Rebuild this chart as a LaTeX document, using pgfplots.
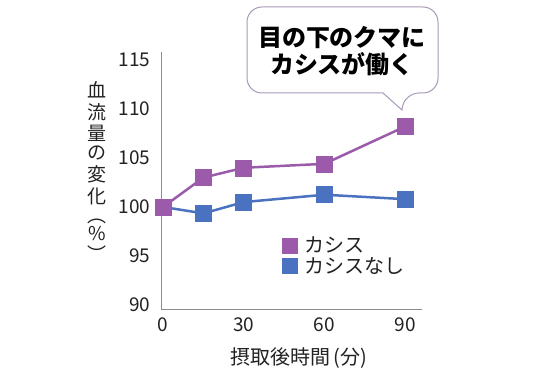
\documentclass[border=0pt]{standalone}
\usepackage{pgfplots}
\pgfplotsset{compat=1.18}
\usepackage{fontspec}
\setmainfont{Noto Sans CJK JP}
\definecolor{cassis}{HTML}{9B5BAA}
\definecolor{nocassis}{HTML}{4A72C0}
\definecolor{axisgray}{HTML}{8C8C8C}
\definecolor{bubble}{HTML}{A89AB8}
\definecolor{txt}{HTML}{222222}

\pgfplotstableread{
x y
0 100
15 103.0
30 104.0
60 104.4
90 108.2
}\cassisdata
\pgfplotstableread{
x y
0 100
15 99.35
30 100.5
60 101.25
90 100.8
}\nocassisdata

\begin{document}
\begin{tikzpicture}
\useasboundingbox (0pt,0pt) rectangle (542pt,386pt);
\fill[white] (0pt,0pt) rectangle (542pt,386pt);
\begin{axis}[
  at={(162pt,76pt)}, anchor=south west,
  scale only axis, width=260pt, height=258pt,
  xmin=-0.4, xmax=96.3, ymin=89.5, ymax=115.8,
  axis x line=bottom, axis y line=left,
  axis line style={-, axisgray, line width=1pt},
  xtick={0,30,60,90}, ytick={90,95,100,105,110,115},
  major tick length=0pt,
  tick label style={font=\fontsize{19}{21}\selectfont, text=txt},
  /pgf/number format/assume math mode=true,
  xticklabel style={yshift=-4pt},
  yticklabel style={xshift=-8pt},
  xlabel={摂取後時間\,(分)},
  xlabel style={at={(axis description cs:0.525,-0.186)}, anchor=center, font=\fontsize{20}{22}\selectfont, text=txt},
  ylabel={\begin{tabular}{@{}c@{}}血\\流\\量\\の\\変\\化\\︵\\[-1pt]\%\\[-1pt]︶\end{tabular}},
  ylabel style={at={(axis description cs:-0.25,0.525)}, anchor=center, rotate=-90, font=\fontsize{19}{19}\selectfont, text=txt},
  legend style={at={(axis description cs:0.452,0.30)}, anchor=north west, draw=none, fill=none,
    font=\fontsize{20}{22}\selectfont, text=txt, row sep=-1pt, cells={anchor=west}},
  legend image code/.code={\path[draw=none,fill=none] (0.3cm-7.5pt,0pt) rectangle (0.3cm+12pt,0.1pt);\draw[#1, mark size=7.5pt, line width=0pt] plot coordinates {(0.3cm,0cm)};},
  reverse legend,
  clip=false,
]
\addplot[nocassis, line width=2.5pt, mark=square*, mark size=8pt, mark options={line width=0.5pt}] table[x=x,y=y] {\nocassisdata};
\addlegendentry{カシスなし}
\addplot[cassis, line width=2.5pt, mark=square*, mark size=8pt, mark options={line width=0.5pt}] table[x=x,y=y] {\cassisdata};
\addlegendentry{カシス}
\end{axis}
\draw[bubble, line width=1pt, fill=white] (402pt,276pt) -- (383pt,293pt) [rounded corners=15pt] -- (247pt,293pt) -- (247pt,379pt) -- (438pt,379pt) -- (438pt,293pt) -- (404pt,293pt) [sharp corners] -- cycle;
\node[font=\fontsize{24}{27}\selectfont\bfseries, text=black, align=center] at (342pt,334.5pt) {目の下のクマに\\カシスが働く};
\end{tikzpicture}
\end{document}
